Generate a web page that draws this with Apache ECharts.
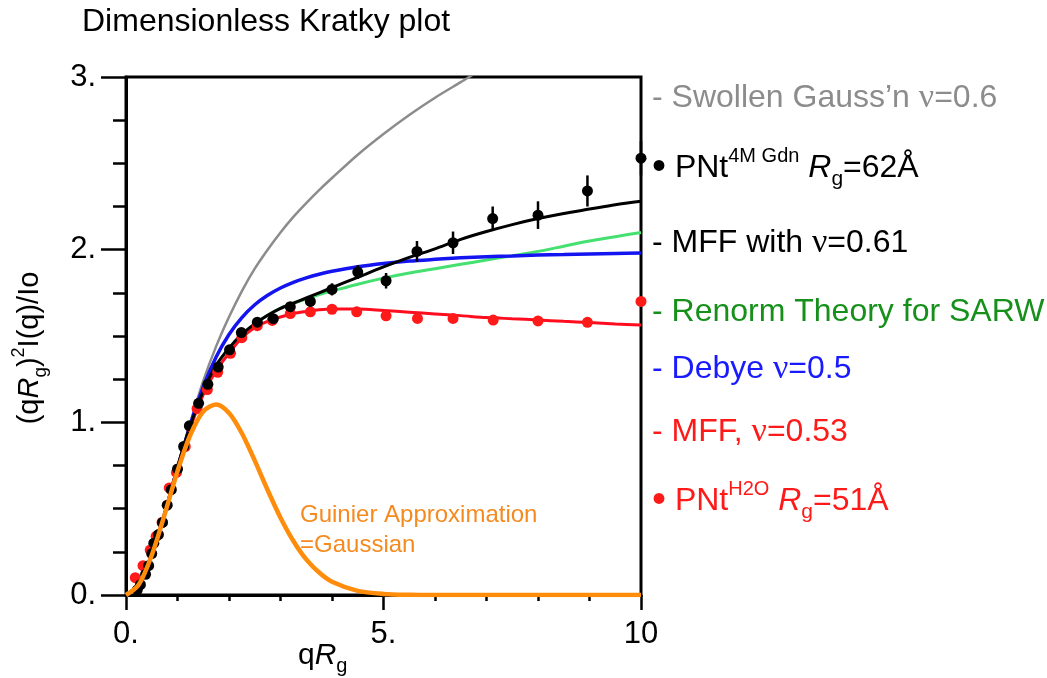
<!DOCTYPE html>
<html>
<head>
<meta charset="utf-8">
<script src="https://cdn.jsdelivr.net/npm/echarts@6/dist/echarts.min.js"></script>
<style>html,body{margin:0;padding:0;background:#fff}#c{width:1047px;height:678px}</style>
</head>
<body>
<div id="c"></div>
<script>
// ---------- data ----------
const curveX = [0,0.25,0.5,0.75,1,1.25,1.5,1.75,2,2.25,2.5,2.75,3,3.25,3.5,3.75,4,4.5,5,5.5,6,6.5,7,7.5,8,8.5,9,9.5,10];
const swollenY = [0,0.06,0.23,0.47,0.74,1.0,1.24,1.44,1.61,1.76,1.89,2.0,2.1,2.19,2.27,2.345,2.415,2.55,2.67,2.78,2.88,2.97,3.06,3.14,3.22,3.3,3.37,3.44,3.5];
const renormY = [0,0.06,0.23,0.47,0.74,0.98,1.18,1.33,1.43,1.51,1.57,1.62,1.66,1.69,1.715,1.74,1.76,1.80,1.835,1.865,1.89,1.915,1.94,1.965,1.99,2.02,2.05,2.075,2.10];
const debyeY = [0,0.06,0.23,0.47,0.736,0.988,1.205,1.378,1.509,1.607,1.681,1.736,1.778,1.811,1.837,1.858,1.875,1.901,1.92,1.934,1.944,1.953,1.959,1.964,1.969,1.972,1.975,1.978,1.98];
const mff061Y = [0,0.06,0.23,0.47,0.74,0.98,1.18,1.33,1.43,1.51,1.57,1.62,1.66,1.69,1.72,1.75,1.78,1.84,1.90,1.955,2.005,2.06,2.105,2.145,2.18,2.21,2.235,2.26,2.28];
const mff053Y = [0,0.06,0.23,0.47,0.74,0.97,1.16,1.30,1.40,1.49,1.55,1.585,1.61,1.63,1.642,1.652,1.657,1.657,1.648,1.638,1.628,1.618,1.607,1.60,1.593,1.585,1.578,1.57,1.563];
const guinierY = [0,0.061,0.23,0.466,0.717,0.928,1.063,1.103,1.054,0.937,0.778,0.608,0.448,0.313,0.206,0.13,0.077,0.024,0.006,0.001,0,0,0,0,0,0,0,0,0];

const gdnX = [0.22,0.28,0.38,0.44,0.50,0.54,0.63,0.71,0.80,0.88,1.0,1.12,1.23,1.41,1.59,1.79,2.01,2.24,2.55,2.86,3.19,3.58,4.0,4.5,5.05,5.65,6.35,7.12,8.0,8.96,10.0];
const gdnY = [0.03,0.06,0.12,0.17,0.24,0.30,0.35,0.42,0.52,0.61,0.73,0.86,0.98,1.11,1.22,1.32,1.42,1.52,1.58,1.60,1.67,1.70,1.77,1.87,1.82,1.99,2.04,2.18,2.20,2.34,2.53];
const gdnErr = [0,0,0,0,0,0,0,0,0,0,0,0,0,0,0,0,0,0,0,0,0.02,0.03,0.035,0.04,0.045,0.06,0.065,0.07,0.08,0.09,0.1];
const h2oX = [0.18,0.33,0.47,0.585,0.70,0.84,0.98,1.15,1.25,1.38,1.58,1.78,2.03,2.25,2.55,2.84,3.19,3.58,4.0,4.48,5.05,5.66,6.35,7.13,8.0,8.96,10.0];
const h2oY = [0.10,0.17,0.26,0.34,0.42,0.62,0.71,0.86,0.975,1.08,1.19,1.29,1.40,1.49,1.56,1.59,1.63,1.64,1.655,1.64,1.617,1.602,1.602,1.592,1.587,1.579,1.70];

const xTickLabels = {0:'0.',5:'5.',10:'10'};
const yTickLabels = {0:'0.',1:'1.',2:'2.',3:'3.'};
const titleText = 'Dimensionless Kratky plot';
const legendLabels = [
  '- Swollen Gauss\u2019n {nu|\u03bd}=0.6',
  '{b|\u2022} PNt{sup|4M Gdn} {it|R}{sub|g}=62\u00c5',
  '- MFF with {nu|\u03bd}=0.61',
  '- Renorm Theory for SARW',
  '- Debye {nu|\u03bd}=0.5',
  '- MFF, {nu|\u03bd}=0.53',
  '{b|\u2022} PNt{sup|H2O} {it|R}{sub|g}=51\u00c5'
];
const legendColors = ['#8c8c8c','#000000','#000000','#16901a','#1a1aff','#ff1a1a','#ff1a1a'];
const legendYs = [98,168,243,312,369,432,501];
const guinierLabel = ['Guinier Approximation','=Gaussian'];

// ---------- chart ----------
const FONT = '"Liberation Sans", Arial, sans-serif';
const zip = (xs, ys) => xs.map((x,i)=>[x, ys[i]]);
const richBase = (size, color) => ({
  nu: {fontFamily:'"Liberation Serif", serif', fontSize:size+2, fill:color, color:color},
  b: {fontFamily:FONT, fontSize:Math.round(size*1.25), fill:color, color:color},
  it: {fontStyle:'italic', fontFamily:FONT, fontSize:size, color:color, fill:color},
  sup: {fontFamily:FONT, fontSize:Math.round(size*0.62), verticalAlign:'top', lineHeight:Math.round(size*0.62), color:color, fill:color},
  sub: {fontFamily:FONT, fontSize:Math.round(size*0.65), verticalAlign:'bottom', lineHeight:Math.round(size*0.65), color:color, fill:color}
});

const chart = echarts.init(document.getElementById('c'), null, {renderer:'canvas'});

const lineSeries = (name, ys, color, width, z) => ({
  name, type:'line', data: zip(curveX, ys), showSymbol:false, smooth:0.3,
  lineStyle:{color, width}, itemStyle:{color}, z, clip:true, silent:true
});

const graphics = [];
graphics.push({type:'text', left:82, top:6, style:{text:titleText, font:'32px '+FONT, fill:'#000'}});
legendLabels.forEach((t,i)=>{
  graphics.push({type:'text', x:652, y:legendYs[i], style:{
    text:t, fontSize:32, fontFamily:FONT, fill:legendColors[i], verticalAlign:'middle', align:'left',
    lineHeight:44, rich: richBase(32, legendColors[i])
  }});
});
guinierLabel.forEach((t,i)=>{
  graphics.push({type:'text', x:300, y:515 + i*30, style:{text:t, fontSize:24, fontFamily:FONT, fill:'#f58a1f', verticalAlign:'middle'}});
});
graphics.push({type:'text', x:298, y:656, style:{text:'q{it|R}{sub|g}', fontSize:30, fontFamily:FONT, fill:'#000', verticalAlign:'middle', lineHeight:40, rich:richBase(30,'#000')}});
graphics.push({type:'text', x:30, y:348, rotation:Math.PI/2, style:{text:'(q{it|R}{sub|g}){sup|2}I(q)/Io', fontSize:29, fontFamily:FONT, fill:'#000', align:'center', verticalAlign:'middle', lineHeight:40, rich:richBase(29,'#000')}});

const option = {
  animation:false,
  backgroundColor:'#fff',
  grid:{left:126, right:406, top:77, bottom:83, show:true, borderColor:'#000', borderWidth:3, outerBoundsMode:'none'},
  xAxis:{
    type:'value', min:0, max:10, interval:5,
    axisLine:{show:true, onZero:false, lineStyle:{color:'#000', width:3}},
    axisTick:{show:true, inside:false, length:15, lineStyle:{color:'#000', width:2.5}},
    minorTick:{show:true, splitNumber:5, length:6, lineStyle:{color:'#000', width:2.5}},
    splitLine:{show:false},
    axisLabel:{margin:24, fontSize:31, fontFamily:FONT, color:'#000', formatter:v=>xTickLabels[v] ?? ''}
  },
  yAxis:{
    type:'value', min:0, max:3, interval:1,
    axisLine:{show:true, onZero:false, lineStyle:{color:'#000', width:3}},
    axisTick:{show:true, inside:false, length:25, lineStyle:{color:'#000', width:2.5}},
    minorTick:{show:true, splitNumber:4, length:13, lineStyle:{color:'#000', width:2.5}},
    splitLine:{show:false},
    axisLabel:{margin:30, fontSize:31, fontFamily:FONT, color:'#000', formatter:v=>yTickLabels[v] ?? ''}
  },
  graphic: graphics,
  series:[
    lineSeries('Swollen Gauss\u2019n', swollenY, '#8c8c8c', 2.5, 2),
    lineSeries('Renorm Theory for SARW', renormY, '#44e070', 3, 3),
    lineSeries('Debye', debyeY, '#1414f0', 3.5, 4),
    lineSeries('MFF 0.53', mff053Y, '#ff0d1f', 3, 5),
    lineSeries('MFF 0.61', mff061Y, '#000000', 3, 6),
    {name:'PNt H2O', type:'scatter', data:zip(h2oX,h2oY), symbolSize:11, itemStyle:{color:'#ff1a1a', opacity:1}, z:7, silent:true},
    {name:'PNt Gdn err', type:'custom', data: gdnX.map((x,i)=>[x, gdnY[i], gdnErr[i]]), z:8, silent:true,
      encode:{x:0, y:1},
      renderItem:(params, api)=>{
        const x=api.value(0), y=api.value(1), e=api.value(2);
        if(!e) return null;
        const p1=api.coord([x,y-e]), p2=api.coord([x,y+e]);
        return {type:'line', shape:{x1:p1[0],y1:p1[1],x2:p2[0],y2:p2[1]}, style:{stroke:'#000', lineWidth:2.5}};
      }},
    {name:'PNt Gdn', type:'scatter', data:zip(gdnX,gdnY), symbolSize:11, itemStyle:{color:'#000', opacity:1}, z:9, silent:true},
    lineSeries('Guinier', guinierY, '#ff8c0a', 4.5, 10)
  ]
};
chart.setOption(option);
</script>
</body>
</html>
